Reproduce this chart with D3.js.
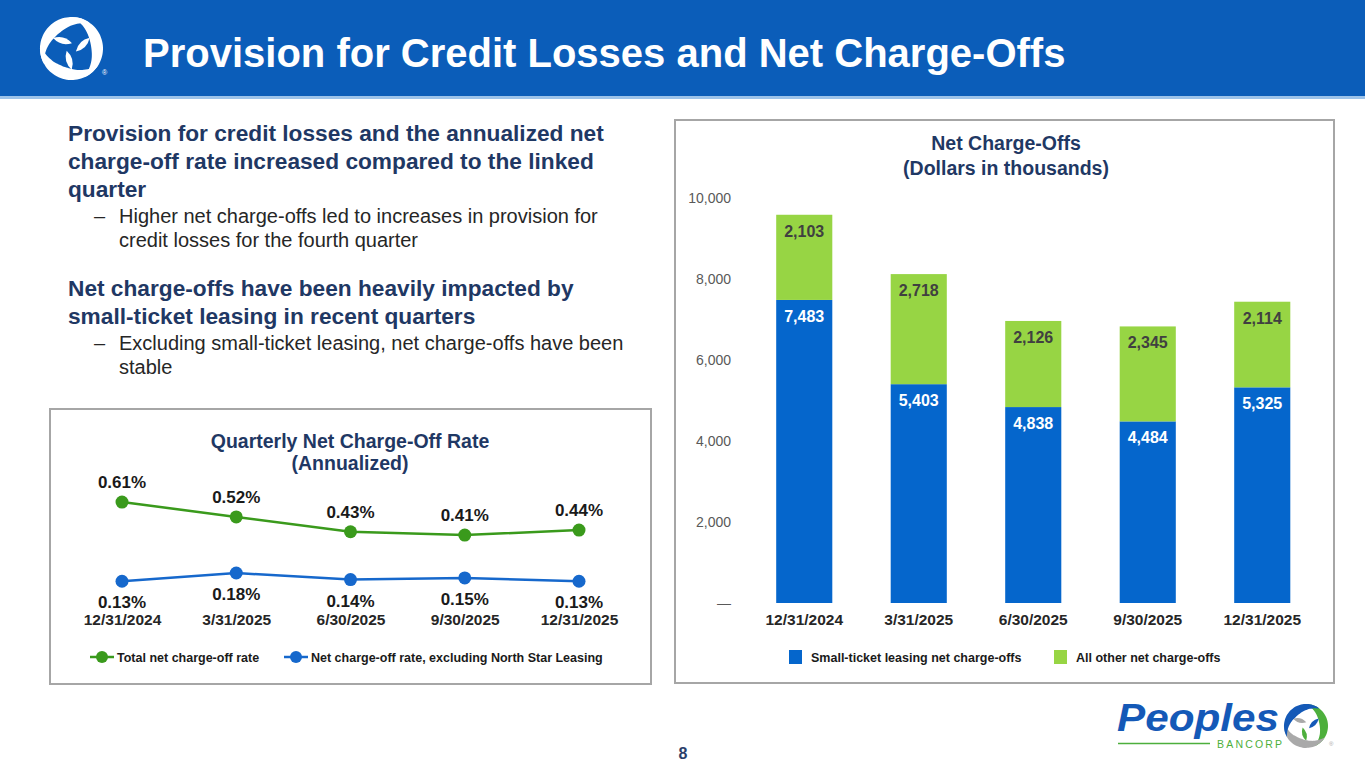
<!DOCTYPE html>
<html>
<head>
<meta charset="utf-8">
<script src="https://cdn.jsdelivr.net/npm/d3@7/dist/d3.min.js"></script>
<style>
  html, body { margin: 0; padding: 0; background: #fff; }
  svg { display: block; font-family: "Liberation Sans", Arial, sans-serif; }
</style>
</head>
<body>
<svg id="slide" width="1365" height="768"></svg>
<script>
// ---------- DATA ----------
const quarters = ["12/31/2024", "3/31/2025", "6/30/2025", "9/30/2025", "12/31/2025"];
const totalRate = [0.61, 0.52, 0.43, 0.41, 0.44];
const exNorthStarRate = [0.13, 0.18, 0.14, 0.15, 0.13];
const smallTicket = [7483, 5403, 4838, 4484, 5325];
const allOther = [2103, 2718, 2126, 2345, 2114];
const yTicks = [0, 2000, 4000, 6000, 8000, 10000];

const slideTitle = "Provision for Credit Losses and Net Charge-Offs";
const lineTitle = ["Quarterly Net Charge-Off Rate", "(Annualized)"];
const barTitle = ["Net Charge-Offs", "(Dollars in thousands)"];
const lineLegend = ["Total net charge-off rate", "Net charge-off rate, excluding North Star Leasing"];
const barLegend = ["Small-ticket leasing net charge-offs", "All other net charge-offs"];

// ---------- STYLE ----------
const NAVY = "#1F3864";
const HEADER_BLUE = "#0B5DB9";
const GREEN_LINE = "#3A9A1C";
const BLUE_LINE = "#1668CC";
const BAR_BLUE = "#0566CC";
const BAR_GREEN = "#97D544";

const svg = d3.select("#slide");

// decorative emblem (three swooshes + three leaves)
function drawEmblem(g, R, cols) {
  const radial = d3.lineRadial().curve(d3.curveCatmullRom);
  for (let k = 0; k < 3; k++) {
    const rot = k * 120;
    const span = Math.PI * 0.85;
    const outer = d3.range(0, 1.0001, 0.05).map(t => [t * span, R]);
    const inner = d3.range(1, -0.0001, -0.05).map(t => [t * span + 0.05, R - R * 0.36 * Math.pow(Math.sin(Math.PI * t), 0.9) - 0.5]);
    g.append("path").attr("d", radial(outer.concat(inner)) + "Z")
      .attr("fill", cols[k]).attr("transform", `rotate(${rot})`);
    const L = R * 0.62, w = R * 0.2;
    g.append("path")
      .attr("d", `M0,0 Q${w},${-L / 2} 0,${-L} Q${-w},${-L / 2} 0,0 Z`)
      .attr("fill", cols[k])
      .attr("transform", `rotate(${rot + 200}) translate(${R * 0.12},${-R * 0.12}) rotate(-35)`);
  }
}

// ---------- HEADER ----------
svg.append("rect").attr("x", 0).attr("y", 0).attr("width", 1365).attr("height", 97).attr("fill", HEADER_BLUE);
svg.append("rect").attr("x", 0).attr("y", 96).attr("width", 1365).attr("height", 3).attr("fill", "#9CC3EA");
svg.append("text").attr("x", 143).attr("y", 67).attr("fill", "#fff")
  .attr("font-size", 40).attr("font-weight", "bold").text(slideTitle);

drawEmblem(svg.append("g").attr("transform", "translate(71.5,48.5)"), 31.5, ["#fff", "#fff", "#fff"]);
svg.append("text").attr("x", 102).attr("y", 75).attr("fill", "#fff").attr("font-size", 7).text("®");

// ---------- LEFT TEXT ----------
const txt = svg.append("g");
const heads = [
  { y: 141, t: "Provision for credit losses and the annualized net" },
  { y: 169, t: "charge-off rate increased compared to the linked" },
  { y: 197, t: "quarter" },
  { y: 296, t: "Net charge-offs have been heavily impacted by" },
  { y: 324, t: "small-ticket leasing in recent quarters" }
];
heads.forEach(d => txt.append("text").attr("x", 68).attr("y", d.y).attr("fill", NAVY)
  .attr("font-size", 22.7).attr("font-weight", "bold").text(d.t));
const subs = [
  { y: 223, t: "Higher net charge-offs led to increases in provision for", dash: true },
  { y: 247, t: "credit losses for the fourth quarter" },
  { y: 350, t: "Excluding small-ticket leasing, net charge-offs have been", dash: true },
  { y: 374, t: "stable" }
];
subs.forEach(d => {
  if (d.dash) txt.append("text").attr("x", 94).attr("y", d.y).attr("fill", "#262626").attr("font-size", 20).text("–");
  txt.append("text").attr("x", 119).attr("y", d.y).attr("fill", "#262626").attr("font-size", 20).text(d.t);
});

// ---------- LINE CHART ----------
svg.append("rect").attr("x", 50).attr("y", 409).attr("width", 601).attr("height", 275)
  .attr("fill", "#fff").attr("stroke", "#A6A6A6").attr("stroke-width", 2);
lineTitle.forEach((t, i) => svg.append("text").attr("x", 350).attr("y", 448 + i * 22)
  .attr("text-anchor", "middle").attr("fill", NAVY).attr("font-size", 19.5).attr("font-weight", "bold").text(t));

const xl = d3.scalePoint().domain(quarters).range([122, 579]);
const yl = d3.scaleLinear().domain([0, 0.7]).range([602.7, 487.2]);
const lineGen = d3.line().x((d, i) => xl(quarters[i])).y(d => yl(d));

const lg = svg.append("g");
[[totalRate, GREEN_LINE, -14], [exNorthStarRate, BLUE_LINE, 27]].forEach(([vals, col, off]) => {
  lg.append("path").datum(vals).attr("d", lineGen).attr("fill", "none")
    .attr("stroke", col).attr("stroke-width", 2.5);
  lg.selectAll(null).data(vals).enter().append("circle")
    .attr("cx", (d, i) => xl(quarters[i])).attr("cy", d => yl(d)).attr("r", 6.5).attr("fill", col);
  lg.selectAll(null).data(vals).enter().append("text")
    .attr("x", (d, i) => xl(quarters[i])).attr("y", d => yl(d) + off)
    .attr("text-anchor", "middle").attr("font-size", 17).attr("font-weight", "bold").attr("fill", "#1a1a1a")
    .text(d => d.toFixed(2) + "%");
});
const xAxisL = svg.append("g").attr("transform", "translate(0,625)")
  .call(d3.axisBottom(xl).tickSize(0).tickPadding(0));
xAxisL.select(".domain").remove();
xAxisL.selectAll("text").attr("font-size", 15.5).attr("font-weight", "bold").attr("fill", "#262626")
  .attr("font-family", "Liberation Sans, Arial, sans-serif").attr("dy", 0);

const llg = svg.append("g");
[[90, GREEN_LINE, lineLegend[0]], [284, BLUE_LINE, lineLegend[1]]].forEach(([x, col, t]) => {
  llg.append("line").attr("x1", x).attr("x2", x + 24).attr("y1", 657).attr("y2", 657).attr("stroke", col).attr("stroke-width", 2.5);
  llg.append("circle").attr("cx", x + 12).attr("cy", 657).attr("r", 6).attr("fill", col);
  llg.append("text").attr("x", x + 27).attr("y", 661.5).attr("font-size", 12.5).attr("font-weight", "bold")
    .attr("fill", "#1a1a1a").text(t);
});

// ---------- BAR CHART ----------
svg.append("rect").attr("x", 675).attr("y", 120).attr("width", 659).attr("height", 563)
  .attr("fill", "#fff").attr("stroke", "#A6A6A6").attr("stroke-width", 2);
barTitle.forEach((t, i) => svg.append("text").attr("x", 1006).attr("y", 150 + i * 25)
  .attr("text-anchor", "middle").attr("fill", NAVY).attr("font-size", 19.5).attr("font-weight", "bold").text(t));

const xb = d3.scaleBand().domain(quarters).range([747, 1319.5]).paddingInner(0.51).paddingOuter(0.255);
const yb = d3.scaleLinear().domain([0, 10000]).range([603, 198]);

const yAxis = svg.append("g").attr("transform", "translate(731,0)")
  .call(d3.axisLeft(yb).tickValues(yTicks).tickSize(0).tickPadding(0)
    .tickFormat(d => d === 0 ? "—" : d3.format(",")(d)));
yAxis.select(".domain").remove();
yAxis.selectAll("text").attr("font-size", 14).attr("fill", "#595959")
  .attr("font-family", "Liberation Sans, Arial, sans-serif");

const stackData = quarters.map((q, i) => ({ q, small: smallTicket[i], other: allOther[i] }));
const series = d3.stack().keys(["small", "other"])(stackData);
const colors = { small: BAR_BLUE, other: BAR_GREEN };
const labelColors = { small: "#ffffff", other: "#404040" };

const bars = svg.append("g");
series.forEach(s => {
  bars.selectAll(null).data(s).enter().append("rect")
    .attr("x", d => xb(d.data.q)).attr("width", xb.bandwidth())
    .attr("y", d => yb(d[1])).attr("height", d => yb(d[0]) - yb(d[1]))
    .attr("fill", colors[s.key]);
  bars.selectAll(null).data(s).enter().append("text")
    .attr("x", d => xb(d.data.q) + xb.bandwidth() / 2).attr("y", d => yb(d[1]) + 22)
    .attr("text-anchor", "middle").attr("font-size", 16).attr("font-weight", "bold")
    .attr("fill", labelColors[s.key])
    .text(d => d3.format(",")(d.data[s.key]));
});

const xAxisB = svg.append("g").attr("transform", "translate(0,625)")
  .call(d3.axisBottom(xb).tickSize(0).tickPadding(0));
xAxisB.select(".domain").remove();
xAxisB.selectAll("text").attr("font-size", 15.5).attr("font-weight", "bold").attr("fill", "#262626")
  .attr("font-family", "Liberation Sans, Arial, sans-serif").attr("dy", 0);

const blg = svg.append("g");
[[789, BAR_BLUE, barLegend[0]], [1054, BAR_GREEN, barLegend[1]]].forEach(([x, col, t]) => {
  blg.append("rect").attr("x", x).attr("y", 650).attr("width", 13).attr("height", 14).attr("fill", col);
  blg.append("text").attr("x", x + 22).attr("y", 661.5).attr("font-size", 12.5).attr("font-weight", "bold")
    .attr("fill", "#1a1a1a").text(t);
});

// ---------- FOOTER ----------
svg.append("text").attr("x", 683).attr("y", 758.5).attr("text-anchor", "middle")
  .attr("font-size", 16).attr("font-weight", "bold").attr("fill", "#2B3F6B").text("8");

const logo = svg.append("g");
logo.append("text").attr("x", 1117).attr("y", 731).attr("font-size", 38).attr("font-weight", "bold")
  .attr("font-style", "italic").attr("fill", "#1459B7")
  .attr("textLength", 162).attr("lengthAdjust", "spacingAndGlyphs").text("Peoples");
logo.append("line").attr("x1", 1118).attr("x2", 1210).attr("y1", 743.5).attr("y2", 743.5)
  .attr("stroke", "#4DAF3C").attr("stroke-width", 1.5);
logo.append("text").attr("x", 1217).attr("y", 748).attr("font-size", 10.5).attr("fill", "#4DAF3C")
  .attr("letter-spacing", 2.2).text("BANCORP");
drawEmblem(logo.append("g").attr("transform", "translate(1306,726) rotate(0)"), 22, ["#4DAF3C", "#A9A9A9", "#1459B7"]);
logo.append("text").attr("x", 1329).attr("y", 746).attr("font-size", 6).attr("fill", "#A6A6A6").text("®");
</script>
</body>
</html>
